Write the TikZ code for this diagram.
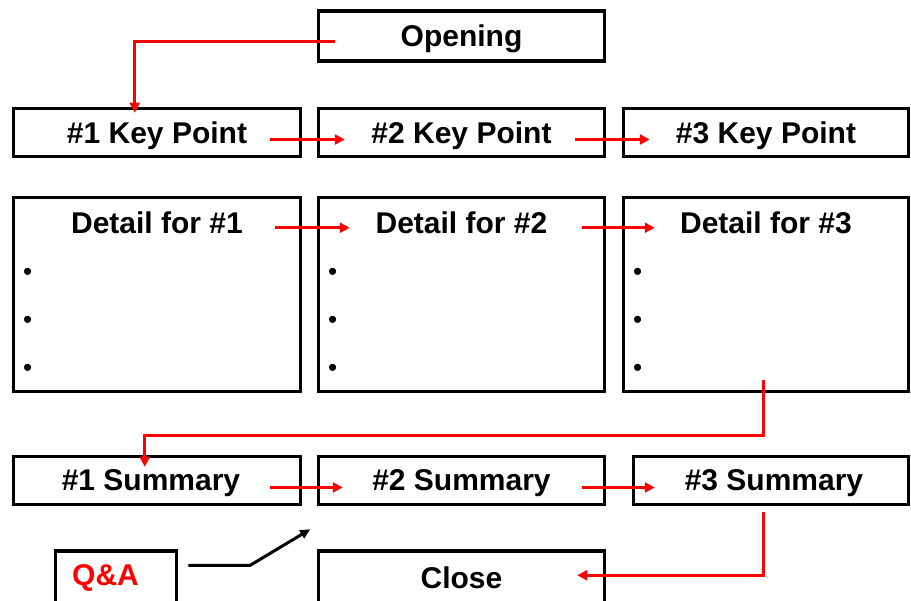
\documentclass[tikz,border=0pt]{standalone}
\usepackage{fontspec}
\setmainfont{Liberation Sans}
\usetikzlibrary{calc,arrows.meta}
\definecolor{flowred}{RGB}{255,0,0}
\tikzset{
  box/.style={draw=black, line width=3.5pt, fill=white, inner sep=0pt},
  lbl/.style={font=\fontsize{30}{32}\selectfont\bfseries, inner sep=0pt},
  dot/.style={font=\fontsize{26}{28}\selectfont, inner sep=0pt},
  redarrow/.style={draw=flowred, line width=3pt, -{Triangle[length=10pt,width=10pt]}},
  blackarrow/.style={draw=black, line width=3pt, -{Triangle[length=10pt,width=9pt]}}
}
\begin{document}
\begin{tikzpicture}[x=1pt,y=-1pt]
\useasboundingbox (0,0) rectangle (911,601);
\begin{scope}
\clip (0,0) rectangle (911,601);
% opening
\node[box, minimum width=286pt, minimum height=50pt] (open) at (461.5,36) {};
\node[lbl] (opent) at (461.5,39) {Opening};
% key points
\node[box, minimum width=287pt, minimum height=48pt] (kp1) at (157,132.5) {};
\node[box, minimum width=286pt, minimum height=48pt] (kp2) at (461.5,132.5) {};
\node[box, minimum width=285pt, minimum height=48pt] (kp3) at (766,132.5) {};
\node[lbl] (kpt1) at ($(kp1.center)+(0,3)$) {\#1 Key Point};
\node[lbl] (kpt2) at ($(kp2.center)+(0,3)$) {\#2 Key Point};
\node[lbl] (kpt3) at ($(kp3.center)+(0,3)$) {\#3 Key Point};
% details
\foreach \i/\x/\w in {1/157/287, 2/461.5/286, 3/766/285}{
  \node[box, minimum width=\w pt, minimum height=194pt] (det\i) at (\x,294.5) {};
  \node[lbl] (dett\i) at ($(det\i.north)+(0,27)$) {Detail for \#\i};
  \node[dot] (b\i a) at ($(det\i.west)+(16,-20)$) {\textbullet};
  \node[dot] (b\i b) at ($(det\i.west)+(16,28)$) {\textbullet};
  \node[dot] (b\i c) at ($(det\i.west)+(16,76)$) {\textbullet};
}
% summaries
\node[box, minimum width=287pt, minimum height=48pt] (sum1) at (157,480.5) {};
\node[box, minimum width=286pt, minimum height=48pt] (sum2) at (461.5,480.5) {};
\node[box, minimum width=275pt, minimum height=48pt] (sum3) at (771,480.5) {};
\node[lbl] (sumt1) at ($(sum1.center)+(-6,3)$) {\#1 Summary};
\node[lbl] (sumt2) at ($(sum2.center)+(0,3)$) {\#2 Summary};
\node[lbl] (sumt3) at ($(sum3.center)+(3,3)$) {\#3 Summary};
% question time and close (their lower edges run past the page)
\node[box, minimum width=121pt, minimum height=66pt] (qa) at (116,584) {};
\node[lbl, text=flowred, anchor=west] (qat) at (72,578) {Q\&A};
\node[box, minimum width=286pt, minimum height=66pt] (close) at (461.5,584) {};
\node[lbl] (closet) at (461.5,578) {Close};
\end{scope}
% connectors
\coordinate (c1) at ($(kp1.north west)+(123,6)$);
\draw[redarrow] ($(open.west)+(18,6)$) -| (c1);
\draw[redarrow] ($(kp1.east)+(-32,7)$) -- ($(kp2.west)+(28,7)$);
\draw[redarrow] ($(kp2.east)+(-31,7)$) -- ($(kp3.west)+(28,7)$);
\draw[redarrow] ($(det1.north east)+(-27,32)$) -- ($(det2.north west)+(33,32)$);
\draw[redarrow] ($(det2.north east)+(-24,32)$) -- ($(det3.north west)+(33,32)$);
\coordinate (c2) at ($(det3.south)+(-3,42)$);
\coordinate (c3) at ($(sum1.north west)+(133,12)$);
\draw[redarrow] ($(det3.south)+(-3,-13)$) -- (c2) -| (c3);
\draw[redarrow] ($(sum1.east)+(-32,7)$) -- ($(sum2.west)+(26,7)$);
\draw[redarrow] ($(sum2.east)+(-24,7)$) -- ($(sum3.west)+(23,7)$);
\coordinate (c4) at ($(close.north east)+(-29,26)$);
\draw[redarrow] ($(sum3.south)+(-8,6)$) |- (c4);
\coordinate (c5) at ($(qa.north east)+(132,-20)$);
\draw[blackarrow] ($(qa.north east)+(10,16)$) -- ++(62,0) -- (c5);
\end{tikzpicture}
\end{document}
